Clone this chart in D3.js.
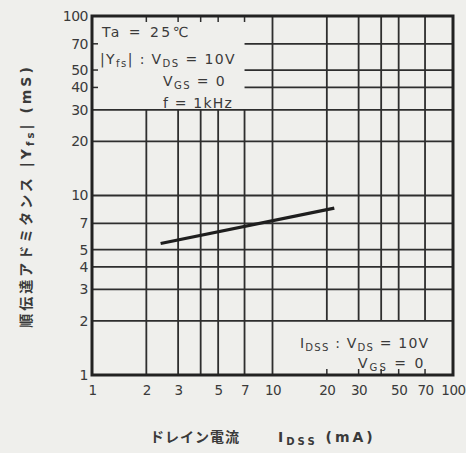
<!DOCTYPE html>
<html>
<head>
<meta charset="utf-8">
<script src="https://cdn.jsdelivr.net/npm/d3@7"></script>
<style>
  body { margin: 0; background: #efefec; }
  svg { display: block; }
  text { font-family: "DejaVu Sans", "Noto Sans CJK JP", sans-serif; fill: #3a3a3a; }
</style>
</head>
<body>
<div id="chart"></div>
<script>
  // Idss (mA) vs |Yfs| (mS)
  const idss = [2.4, 22];
  const yfs = [5.4, 8.5];

  const xTicks = [1, 2, 3, 5, 7, 10, 20, 30, 50, 70, 100];
  const yTicks = [1, 2, 3, 4, 5, 7, 10, 20, 30, 40, 50, 70, 100];

  const xLowGrid = [2, 3, 4, 5, 7];        // up to 30 only
  const xHighGrid = [20, 30, 40, 50, 70];  // from 2 upwards
  const yLowGrid = [2, 3, 4, 5, 7, 10, 20, 30];
  const yHighGrid = [40, 50, 70];          // from 7 rightwards

  const W = 466, H = 453;
  const margin = { top: 16, right: 13, bottom: 78, left: 92 };
  const width = W - margin.left - margin.right;
  const height = H - margin.top - margin.bottom;

  const svg = d3.select('#chart').append('svg')
    .attr('width', W)
    .attr('height', H);

  const g = svg.append('g')
    .attr('transform', `translate(${margin.left}, ${margin.top})`);

  const x = d3.scaleLog().domain([1, 100]).range([0, width]);
  const y = d3.scaleLog().domain([1, 100]).range([height, 0]);

  const gridColor = '#2e2e2e';

  // horizontal grid
  g.selectAll('.hlow').data(yLowGrid).enter().append('line')
    .attr('x1', 0).attr('x2', width)
    .attr('y1', d => y(d)).attr('y2', d => y(d))
    .attr('stroke', gridColor).attr('stroke-width', 1.8);

  g.selectAll('.hhigh').data(yHighGrid).enter().append('line')
    .attr('x1', x(7)).attr('x2', width)
    .attr('y1', d => y(d)).attr('y2', d => y(d))
    .attr('stroke', gridColor).attr('stroke-width', 1.8);

  g.selectAll('.htick').data(yHighGrid).enter().append('line')
    .attr('x1', 0).attr('x2', 6)
    .attr('y1', d => y(d)).attr('y2', d => y(d))
    .attr('stroke', gridColor).attr('stroke-width', 1.5);

  // vertical grid
  g.selectAll('.vlow').data(xLowGrid).enter().append('line')
    .attr('x1', d => x(d)).attr('x2', d => x(d))
    .attr('y1', height).attr('y2', y(30))
    .attr('stroke', gridColor).attr('stroke-width', 1.8);

  g.selectAll('.vtick').data(xLowGrid).enter().append('line')
    .attr('x1', d => x(d)).attr('x2', d => x(d))
    .attr('y1', 0).attr('y2', 6)
    .attr('stroke', gridColor).attr('stroke-width', 1.5);

  g.append('line')
    .attr('x1', x(10)).attr('x2', x(10))
    .attr('y1', 0).attr('y2', height)
    .attr('stroke', gridColor).attr('stroke-width', 1.8);

  g.selectAll('.vhigh').data(xHighGrid).enter().append('line')
    .attr('x1', d => x(d)).attr('x2', d => x(d))
    .attr('y1', 0).attr('y2', y(2))
    .attr('stroke', gridColor).attr('stroke-width', 1.8);

  g.selectAll('.vbtick').data(xHighGrid).enter().append('line')
    .attr('x1', d => x(d)).attr('x2', d => x(d))
    .attr('y1', height).attr('y2', height - 6)
    .attr('stroke', gridColor).attr('stroke-width', 1.5);

  // frame
  g.append('rect')
    .attr('x', 0).attr('y', 0)
    .attr('width', width).attr('height', height)
    .attr('fill', 'none')
    .attr('stroke', '#222').attr('stroke-width', 3);

  // data line
  const line = d3.line()
    .x(d => x(d[0]))
    .y(d => y(d[1]));

  g.append('path')
    .datum(d3.zip(idss, yfs))
    .attr('d', line)
    .attr('fill', 'none')
    .attr('stroke', '#1e1e1e')
    .attr('stroke-width', 3.2);

  // axes (labels only)
  const xAxis = d3.axisBottom(x)
    .tickValues(xTicks)
    .tickFormat(d3.format('d'))
    .tickSize(0)
    .tickPadding(10);

  g.append('g')
    .attr('transform', `translate(0, ${height})`)
    .call(xAxis)
    .call(a => a.select('.domain').remove())
    .selectAll('text')
    .style('font-size', '13.5px')
    .style('letter-spacing', '-0.5px')
    .style('fill', '#3a3a3a');

  const yAxis = d3.axisLeft(y)
    .tickValues(yTicks)
    .tickFormat(d3.format('d'))
    .tickSize(0)
    .tickPadding(4);

  g.append('g')
    .call(yAxis)
    .call(a => a.select('.domain').remove())
    .selectAll('text')
    .style('font-size', '14px')
    .style('letter-spacing', '-0.5px')
    .style('fill', '#3a3a3a');

  // annotations: text with small subscripts
  function label(x0, y0, parts, size) {
    const t = svg.append('text').attr('x', x0).attr('y', y0)
      .style('font-size', size + 'px');
    parts.forEach((p, i) => {
      const s = t.append('tspan').text(p);
      if (i % 2 === 1) s.style('font-size', (size * 0.72) + 'px').attr('dy', 3);
      else if (i > 0) s.attr('dy', -3);
    });
    return t;
  }

  label(102, 37, ['Ta = 25℃'], 14).style('letter-spacing', '2.5px');
  label(100, 64, ['|Y', 'fs', '| : V', 'DS', ' = 10V'], 14).style('letter-spacing', '1.4px');
  label(163, 86, ['V', 'GS', ' = 0'], 14).style('letter-spacing', '1.4px');
  label(163, 108, ['f = 1kHz'], 14).style('letter-spacing', '1.2px');

  label(300, 348, ['I', 'DSS', ' : V', 'DS', ' = 10V'], 14).style('letter-spacing', '1.2px');
  label(358, 368, ['V', 'GS', ' = 0'], 14).style('letter-spacing', '2px');

  // axis titles
  label(150, 442, ['ドレイン電流'], 14)
    .style('font-weight', 'bold')
    .style('letter-spacing', '1px');
  label(278, 442, ['I', 'DSS', ' (mA)'], 14)
    .style('font-weight', 'bold')
    .style('letter-spacing', '3px');

  label(0, 0, ['順伝達アドミタンス |Y', 'fs', '| (mS)'], 14)
    .attr('transform', 'translate(31, 196) rotate(-90)')
    .attr('x', 0).attr('y', 0)
    .style('text-anchor', 'middle')
    .style('font-weight', 'bold')
    .style('letter-spacing', '3px');
</script>
</body>
</html>
